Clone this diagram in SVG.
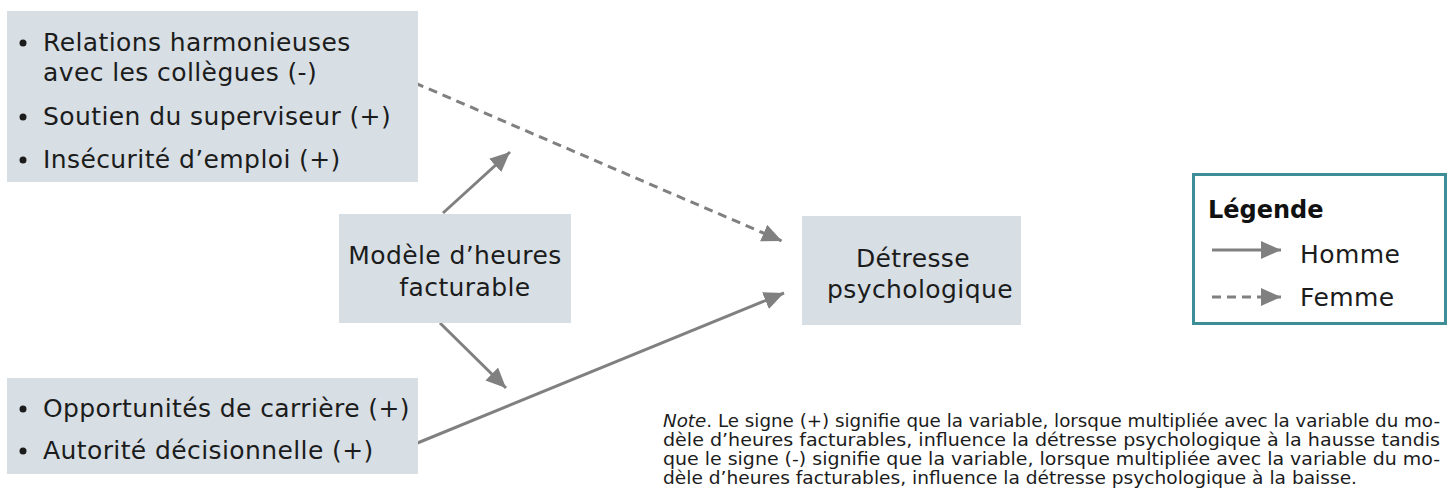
<svg xmlns="http://www.w3.org/2000/svg" width="1448" height="488" viewBox="0 0 1448 488">
<style>
.box{fill:#d7dfe5}
.t{font-family:"DejaVu Sans",sans-serif;font-size:25px;letter-spacing:0.4px;fill:#1c1c1c}
.c{text-anchor:middle}
.b{fill:#1c1c1c}
.ln{stroke:#808080;stroke-width:3;fill:none}
.d{stroke-dasharray:9 6}
.note{font-family:"DejaVu Sans",sans-serif;font-size:17px;fill:#1c1c1c}
</style>
<defs>
<marker id="ah" markerUnits="userSpaceOnUse" markerWidth="22" markerHeight="20" refX="20" refY="9" orient="auto" viewBox="0 0 22 20">
<path d="M0,0 L20,9 L0,18 z" fill="#808080"/>
</marker>
</defs>
<g id="connectors">
<line class="ln" x1="443" y1="213" x2="510" y2="152" marker-end="url(#ah)"/>
<line class="ln" x1="440" y1="323" x2="506" y2="388" marker-end="url(#ah)"/>
<line class="ln d" x1="415" y1="83" x2="782" y2="241" marker-end="url(#ah)"/>
<line class="ln" x1="415" y1="444" x2="784" y2="293" marker-end="url(#ah)"/>
</g>
<g id="n-ressources">
<rect class="box" x="7" y="11" width="411" height="171"/>
<circle class="b" cx="23" cy="43" r="3.5"/>
<text class="t" x="43" y="51">Relations harmonieuses</text>
<text class="t" x="43" y="81">avec les collègues (-)</text>
<circle class="b" cx="23" cy="117" r="3.5"/>
<text class="t" x="43" y="125">Soutien du superviseur (+)</text>
<circle class="b" cx="23" cy="160" r="3.5"/>
<text class="t" x="43" y="168">Insécurité d’emploi (+)</text>
</g>
<g id="n-modele">
<rect class="box" x="339" y="214" width="232" height="109"/>
<text class="t c" x="455" y="264">Modèle d’heures</text>
<text class="t c" x="465" y="296">facturable</text>
</g>
<g id="n-detresse">
<rect class="box" x="802" y="216" width="219" height="109"/>
<text class="t c" x="913" y="267">Détresse</text>
<text class="t c" x="920" y="298">psychologique</text>
</g>
<g id="n-carriere">
<rect class="box" x="7" y="378" width="411" height="96"/>
<circle class="b" cx="23" cy="409" r="3.5"/>
<text class="t" x="43" y="417">Opportunités de carrière (+)</text>
<circle class="b" cx="23" cy="451" r="3.5"/>
<text class="t" x="43" y="459">Autorité décisionnelle (+)</text>
</g>
<g id="legend">
<rect x="1193.5" y="174.5" width="252" height="149" fill="#ffffff" stroke="#3e8e97" stroke-width="3"/>
<text x="1208" y="218" font-family="DejaVu Sans,sans-serif" font-weight="bold" font-size="24" fill="#111">Légende</text>
<line class="ln" x1="1212" y1="250" x2="1281" y2="250" marker-end="url(#ah)"/>
<text class="t" x="1300" y="263">Homme</text>
<line class="ln d" x1="1212" y1="297" x2="1281" y2="297" marker-end="url(#ah)"/>
<text class="t" x="1300" y="306">Femme</text>
</g>
<g id="note">
<text class="note" x="663" y="427" textLength="777" lengthAdjust="spacingAndGlyphs"><tspan font-style="italic">Note</tspan>. Le signe (+) signifie que la variable, lorsque multipliée avec la variable du mo-</text>
<text class="note" x="663" y="446" textLength="777" lengthAdjust="spacingAndGlyphs">dèle d’heures facturables, influence la détresse psychologique à la hausse tandis</text>
<text class="note" x="663" y="465" textLength="777" lengthAdjust="spacingAndGlyphs">que le signe (-) signifie que la variable, lorsque multipliée avec la variable du mo-</text>
<text class="note" x="663" y="484" textLength="694" lengthAdjust="spacingAndGlyphs">dèle d’heures facturables, influence la détresse psychologique à la baisse.</text>
</g>
</svg>
